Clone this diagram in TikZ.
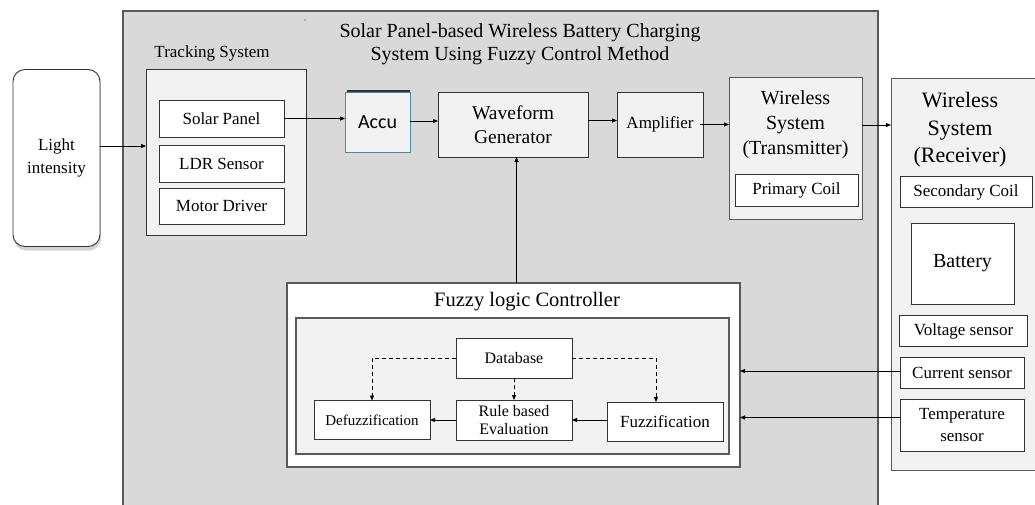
\documentclass[tikz,border=0pt]{standalone}
\usepackage{fontspec}
\setmainfont{Liberation Serif}
\newfontfamily\accufont{Carlito}
\usetikzlibrary{arrows.meta,positioning,shadows}
\definecolor{panel}{HTML}{D9D9D9}
\definecolor{pale}{HTML}{F2F2F2}
\definecolor{edge}{HTML}{333333}
\definecolor{rim}{HTML}{595959}
\definecolor{accu}{HTML}{4A8C9E}
\newcommand{\fs}[2]{\fontsize{#1}{#2}\selectfont}

\begin{document}
\begin{tikzpicture}[x=1pt,y=-1pt,
  box/.style={draw=edge,fill=white,line width=0.9pt,inner sep=0pt,outer sep=0pt,
    align=center,font=\fs{17}{20}},
  palebox/.style={box,fill=pale},
  arr/.style={line width=0.9pt,-{Triangle[length=5pt,width=4pt]}},
  dasharr/.style={arr,dashed,dash pattern=on 4pt off 3pt}]
  \useasboundingbox (0,0) rectangle (1035,504);

  % Main panel
  \draw[fill=panel,draw=rim,line width=1.6pt] (123,11) rectangle (878,520);
  \node[font=\fs{20}{23},align=center] (title) at (520,44)
    {Solar Panel-based Wireless Battery Charging\\System Using Fuzzy Control Method};
  \fill[gray] (305,20) circle (0.8);

  % Light source
  \node[box,rounded corners=12pt,minimum width=87pt,minimum height=177pt,font=\fs{17}{23},
    drop shadow={shadow xshift=1pt,shadow yshift=-4pt,opacity=0.35}]
    (light) at (56.5,158) {Light\\intensity};

  % Tracking system
  \node[font=\fs{17}{20}] (tracklbl) at (212,53) {Tracking System};
  \node[palebox,minimum width=160pt,minimum height=166pt] (track) at (226,152) {};
  \node[box,minimum width=125pt,minimum height=37pt] (solar) at (221.5,118.5) {Solar Panel};
  \node[box,minimum width=125pt,minimum height=37pt] (ldr) at (221.5,163.5) {LDR Sensor};
  \node[box,minimum width=125pt,minimum height=36pt] (motor) at (221.5,206) {Motor Driver};

  % Power chain
  \node[palebox,draw=accu,minimum width=65pt,minimum height=60pt,font=\accufont\fs{20}{24}]
    (accu) at (377.5,122) {Accu};
  \draw[edge,line width=1.2pt] (347,91) -- (410,91);
  \node[palebox,minimum width=150pt,minimum height=65pt,font=\fs{19.5}{24}]
    (wave) at (513,124.5) {Waveform\\Generator};
  \node[palebox,minimum width=86pt,minimum height=65pt] (amp) at (660,124.5) {Amplifier};

  % Transmitter
  \node[palebox,draw=rim,minimum width=133pt,minimum height=142pt] (tx) at (795.5,148) {};
  \node[font=\fs{20}{25},align=center] (txtitle) at (795.5,125) {Wireless\\System\\(Transmitter)};
  \node[box,minimum width=123pt,minimum height=32pt] (pcoil) at (796.5,190.5) {Primary Coil};

  % Receiver
  \node[palebox,draw=rim,minimum width=149pt,minimum height=392pt] (rx) at (965.5,274) {};
  \node[font=\fs{22}{27.5},align=center] (rxtitle) at (960,130) {Wireless\\System\\(Receiver)};
  \node[box,minimum width=132pt,minimum height=31pt] (scoil) at (966,192) {Secondary Coil};
  \node[box,minimum width=103pt,minimum height=81pt,font=\fs{20}{24}] (battery) at (962.5,263.5) {Battery};
  \node[box,minimum width=128pt,minimum height=31pt] (volt) at (963.5,331) {Voltage sensor};
  \node[box,minimum width=124pt,minimum height=31pt] (curr) at (962,373) {Current sensor};
  \node[box,minimum width=124pt,minimum height=52pt,font=\fs{17}{22}] (temp) at (962,425.5) {Temperature\\sensor};

  % Fuzzy logic controller
  \node[box,draw=rim,line width=1.3pt,minimum width=453pt,minimum height=184pt] (flc) at (513.5,375) {};
  \node[font=\fs{20.5}{24}] (flctitle) at (527,302) {Fuzzy logic Controller};
  \node[palebox,draw=rim,line width=1.3pt,minimum width=433pt,minimum height=136pt] (inner) at (512.5,386) {};
  \node[box,minimum width=116pt,minimum height=40pt,font=\fs{16}{19}] (db) at (514,358) {Database};
  \node[box,minimum width=116pt,minimum height=39pt,font=\fs{15}{18}] (defuzz) at (372,420) {Defuzzification};
  \node[box,minimum width=116pt,minimum height=40pt,font=\fs{16}{18}] (rule) at (514,420) {Rule based\\Evaluation};
  \node[box,minimum width=116pt,minimum height=39pt] (fuzz) at (665,421.5) {Fuzzification};

  % Connections
  \draw[arr] (light.east |- 0,146) -- (track.west |- 0,146);
  \draw[arr] (solar.east) -- (solar.east -| accu.west);
  \draw[arr] ([yshift=1pt]accu.east) -- ([yshift=1pt]accu.east -| wave.west);
  \draw[arr] ([yshift=4pt]wave.east) -- ([yshift=4pt]wave.east -| amp.west);
  \draw[arr] ([xshift=-3pt]amp.east) -- (amp.east -| tx.west);
  \draw[arr] (tx.east |- 0,125) -- (rx.west |- 0,125);
  \draw[arr] ([xshift=3pt]flc.north) -- ([xshift=3pt]flc.north |- wave.south);
  \draw[arr] ([yshift=2pt]curr.west) -- ([yshift=2pt]curr.west -| flc.east);
  \draw[arr] ([yshift=8pt]temp.west) -- ([yshift=8pt]temp.west -| flc.east);

  \draw[dasharr] (db.west) -| (defuzz.north);
  \draw[dasharr] (db.east) -| ([xshift=-9pt]fuzz.north);
  \draw[dasharr] (db.south) -- (rule.north);
  \draw[arr] (fuzz.west |- rule.east) -- (rule.east);
  \draw[arr] (rule.west) -- (defuzz.east);
\end{tikzpicture}
\end{document}
